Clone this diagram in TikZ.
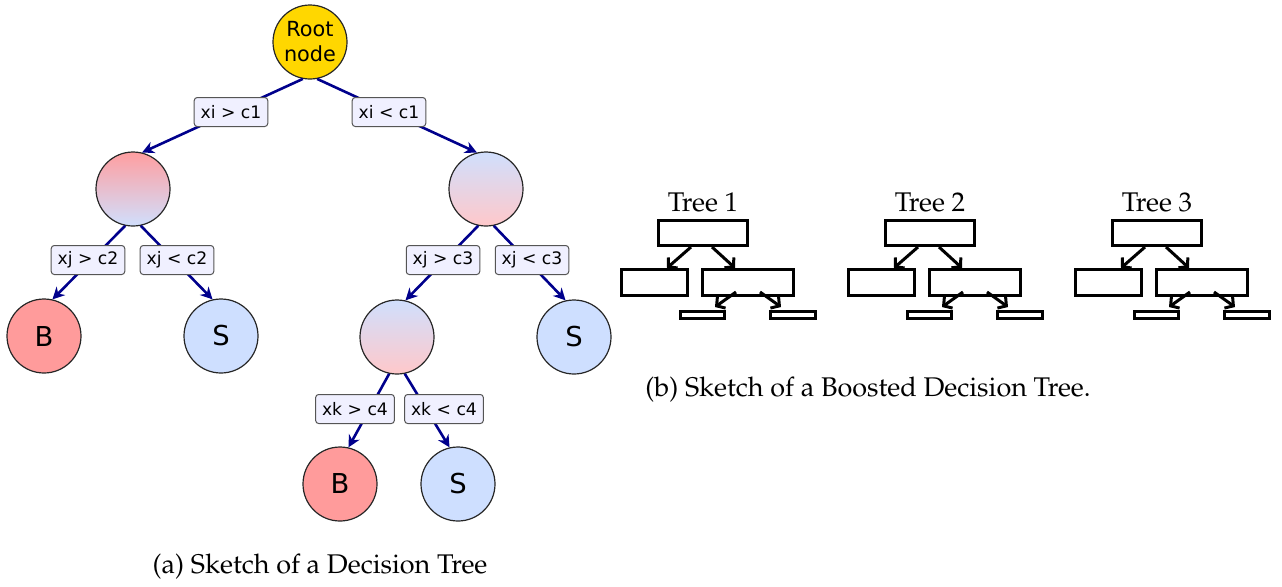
\documentclass[tikz,border=0pt]{standalone}
\usepackage[T1]{fontenc}
\usepackage{fontspec}
\usetikzlibrary{arrows.meta,calc}
\newfontfamily\dejavu{DejaVu Sans}
\newcommand\palfont{\fontencoding{T1}\fontfamily{ppl}\selectfont}
\definecolor{rootc}{RGB}{255,215,0}
\definecolor{bcol}{RGB}{255,155,155}
\definecolor{scol}{RGB}{206,223,255}
\definecolor{gred}{RGB}{255,158,160}
\definecolor{gblue}{RGB}{208,223,253}
\definecolor{gpink}{RGB}{255,200,202}
\definecolor{lblfill}{RGB}{240,240,255}
\definecolor{lbldraw}{RGB}{85,85,85}
\definecolor{edgec}{RGB}{0,0,140}
\tikzset{
  tnode/.style={circle,draw=black!85,line width=0.6pt,minimum size=37pt,inner sep=0pt,
    font=\dejavu\fontsize{13.7}{16}\selectfont},
  rootnode/.style={tnode,fill=rootc,align=center,font=\dejavu\fontsize{10.4}{12.5}\selectfont},
  bnode/.style={tnode,fill=bcol},
  snode/.style={tnode,fill=scol},
  rbnode/.style={tnode,top color=gred,bottom color=gblue},
  brnode/.style={tnode,top color=gblue,bottom color=gpink},
  cond/.style={draw=lbldraw,fill=lblfill,rounded corners=1.5pt,line width=0.5pt,
    minimum height=14.5pt,inner xsep=3.2pt,inner ysep=0pt,
    font=\dejavu\fontsize{8.6}{10}\selectfont},
  edge/.style={draw=edgec,line width=1.3pt,-{Stealth[length=6pt,width=6pt]}},
  sbox/.style={draw=black,line width=1.5pt,inner sep=0pt},
  sarrow/.style={draw=black,line width=1.5pt,-{Straight Barb[length=3pt,width=7pt]}},
  title/.style={font=\palfont\fontsize{13.5}{16}\selectfont,inner sep=0pt},
}
\begin{document}
\begin{tikzpicture}[x=0.5pt,y=-0.5pt]
\useasboundingbox (0,0) rectangle (1282,586);
% ---------- decision tree ----------
\node[rootnode] (root) at (310,42) {Root\\node};
\node[rbnode] (n1) at (133,189) {};
\node[brnode] (n2) at (486,189) {};
\node[bnode] (b1) at (44,336) {B};
\node[snode] (s1) at (221,336) {S};
\node[brnode] (n3) at (397,337) {};
\node[snode] (s2) at (574,337) {S};
\node[bnode] (b2) at (340,484) {B};
\node[snode] (s3) at (458,484) {S};

\draw[edge] (root.-101) -- (n1.76);
\draw[edge] (root.-79) -- (n2.104);
\draw[edge] (n1.-102) -- (b1.77);
\draw[edge] (n1.-78) -- (s1.103);
\draw[edge] (n2.-102) -- (n3.77);
\draw[edge] (n2.-78) -- (s2.103);
\draw[edge] (n3.-102) -- (b2.77);
\draw[edge] (n3.-78) -- (s3.103);

\node[cond] (l1) at (231,112) {xi > c1};
\node[cond] (l2) at (389,112) {xi < c1};
\node[cond] (l3) at (88,260) {xj > c2};
\node[cond] (l4) at (177,260) {xj < c2};
\node[cond] (l5) at (443,260) {xj > c3};
\node[cond] (l6) at (532,260) {xj < c3};
\node[cond] (l7) at (355,409) {xk > c4};
\node[cond] (l8) at (444,409) {xk < c4};

\node[title] (capa) at (320,567) {(a) Sketch of a Decision Tree};

% ---------- boosted trees ----------
\foreach \k in {1,2,3}{
  \begin{scope}[xshift={(\k-1)*227*0.5pt}]
    \node[title] (tt\k) at (703,202) {Tree \k};
    \node[sbox,minimum width=44.5pt,minimum height=12.5pt] (top\k) at (703,233) {};
    \node[sbox,minimum width=33pt,minimum height=13pt] (lc\k) at (654.5,282.5) {};
    \node[sbox,minimum width=45.5pt,minimum height=13pt] (rc\k) at (748,282.5) {};
    \node[sbox,minimum width=22pt,minimum height=3.5pt] (sl\k) at (702.5,315) {};
    \node[sbox,minimum width=22.5pt,minimum height=3.5pt] (sr\k) at (793,315) {};
    \draw[sarrow] ($(top\k.south)+(-12,0)$) -- ($(lc\k.north)+(12.5,0)$);
    \draw[sarrow] ($(top\k.south)+(9,0)$) -- ($(rc\k.north)+(-13,0)$);
    \draw[sarrow] ($(rc\k.center)+(-12,9.5)$) -- ($(sl\k.north)+(12.5,-3)$);
    \draw[sarrow] ($(rc\k.center)+(12,9.5)$) -- ($(sr\k.north)+(-12,-3)$);
  \end{scope}
}
\node[title] (capb) at (868,390) {(b) Sketch of a Boosted Decision Tree.};
\end{tikzpicture}
\end{document}
